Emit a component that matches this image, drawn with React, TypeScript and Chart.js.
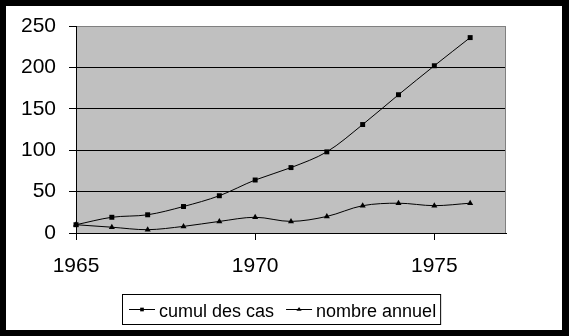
import React, { useEffect, useRef } from 'react';
import { Chart, registerables } from 'chart.js';

Chart.register(...registerables);

// ---- data ----
const years = [1965, 1966, 1967, 1968, 1969, 1970, 1971, 1972, 1973, 1974, 1975, 1976];
const cumulDesCas = [10, 19, 22, 32, 45, 64, 79, 98, 131, 167, 202, 236];
const nombreAnnuel = [10, 7, 4, 8, 14, 19, 14, 20, 33, 36, 33, 36];
const seriesLabels = ['cumul des cas', 'nombre annuel'];
const seriesMarkers = ['rect', 'triangle'];
const xTickValues = [1965, 1970, 1975];
const xMin = 1965;
const xMax = 1977;
const yMin = 0;
const yMax = 250;
const yStep = 50;

const W = 569;
const H = 336;
const FONT = '"Liberation Sans", Arial, Helvetica, sans-serif';

function drawMarker(ctx: CanvasRenderingContext2D, style: string, x: number, y: number, r: number) {
  ctx.beginPath();
  if (style === 'rect') {
    const s = r * Math.SQRT1_2;
    ctx.rect(x - s, y - s, 2 * s, 2 * s);
  } else {
    const h = r * 1.5;
    ctx.moveTo(x, y - h * 0.66);
    ctx.lineTo(x + r, y + h * 0.34);
    ctx.lineTo(x - r, y + h * 0.34);
    ctx.closePath();
  }
  ctx.fill();
}

export default function App() {
  const ref = useRef<HTMLCanvasElement>(null);

  useEffect(() => {
    const canvas = ref.current;
    if (!canvas) return;

    const plotBg = {
      id: 'plotBg',
      beforeDraw(chart: any) {
        const { ctx, chartArea: a } = chart;
        ctx.save();
        ctx.fillStyle = '#c0c0c0';
        ctx.fillRect(a.left, a.top, a.right - a.left, a.bottom - a.top);
        ctx.restore();
      },
      beforeDatasetsDraw(chart: any) {
        const { ctx, chartArea: a } = chart;
        ctx.save();
        ctx.strokeStyle = '#808080';
        ctx.lineWidth = 1;
        const x = Math.round(a.right) - 0.5;
        ctx.beginPath();
        ctx.moveTo(x, Math.round(a.top) + 0.5);
        ctx.lineTo(x, Math.round(a.bottom));
        ctx.stroke();
        ctx.restore();
      },
    };

    const customLegend = {
      id: 'customLegend',
      afterDraw(chart: any) {
        const ctx: CanvasRenderingContext2D = chart.ctx;
        ctx.save();
        ctx.font = `18px ${FONT}`;
        const labels = chart.data.datasets.map((d: any) => d.label as string);
        const widths = labels.map((l: string) => ctx.measureText(l).width);
        const padL = 7, lineW = 26, gapText = 4, gapItem = 12, padR = 4;
        let total = padL + padR;
        widths.forEach((w: number, i: number) => {
          total += lineW + gapText + w + (i < widths.length - 1 ? gapItem : 0);
        });
        const boxLeft = Math.round(281 - total / 2);
        const boxTop = 294;
        const boxH = 30;
        ctx.fillStyle = '#fff';
        ctx.fillRect(boxLeft, boxTop, total, boxH);
        ctx.strokeStyle = '#000';
        ctx.lineWidth = 1;
        ctx.strokeRect(boxLeft + 0.5, boxTop + 0.5, total, boxH);
        let x = boxLeft + padL;
        const ly = 309.5;
        labels.forEach((l: string, i: number) => {
          ctx.strokeStyle = '#000';
          ctx.beginPath();
          ctx.moveTo(x, ly);
          ctx.lineTo(x + lineW, ly);
          ctx.stroke();
          ctx.fillStyle = '#000';
          drawMarker(ctx, chart.data.datasets[i].pointStyle, x + lineW / 2, ly, 2.6);
          ctx.fillStyle = '#000';
          ctx.textBaseline = 'alphabetic';
          ctx.textAlign = 'left';
          ctx.fillText(l, x + lineW + gapText, 316.5);
          x += lineW + gapText + widths[i] + gapItem;
        });
        ctx.restore();
      },
    };

    const mk = (vals: number[]) => years.map((yr, i) => ({ x: yr, y: vals[i] }));

    const chart = new Chart(canvas, {
      type: 'line',
      data: {
        datasets: [
          {
            label: seriesLabels[0],
            data: mk(cumulDesCas),
            borderColor: '#000',
            backgroundColor: '#000',
            borderWidth: 1,
            pointStyle: seriesMarkers[0] as any,
            pointRadius: 3.5,
            pointBackgroundColor: '#000',
            pointBorderColor: '#000',
            pointBorderWidth: 0,
            tension: 0.33,
            fill: false,
            clip: false as any,
          },
          {
            label: seriesLabels[1],
            data: mk(nombreAnnuel),
            borderColor: '#000',
            backgroundColor: '#000',
            borderWidth: 1,
            pointStyle: seriesMarkers[1] as any,
            pointRadius: 3.5,
            pointBackgroundColor: '#000',
            pointBorderColor: '#000',
            pointBorderWidth: 0,
            tension: 0.33,
            fill: false,
            clip: false as any,
          },
        ],
      },
      options: {
        responsive: false,
        animation: false,
        devicePixelRatio: 1,
        events: [],
        layout: { padding: { left: 0, top: 26, right: 63, bottom: 0 } },
        plugins: {
          legend: { display: false },
          tooltip: { enabled: false },
          title: { display: false },
        },
        scales: {
          x: {
            type: 'linear',
            min: xMin,
            max: xMax,
            afterBuildTicks(scale: any) {
              scale.ticks = xTickValues.map((v) => ({ value: v }));
            },
            afterFit(scale: any) {
              scale.height = H - 233;
            },
            ticks: {
              color: '#000',
              font: { family: FONT, size: 21 },
              padding: 14,
              maxRotation: 0,
              autoSkip: false,
              callback: (v: any) => String(v),
            },
            grid: {
              drawOnChartArea: false,
              drawTicks: true,
              tickLength: 7,
              color: '#000',
              tickColor: '#000',
              lineWidth: 1,
            },
            border: { display: true, color: '#000', width: 1 },
          },
          y: {
            type: 'linear',
            min: yMin,
            max: yMax,
            afterFit(scale: any) {
              scale.width = 76;
            },
            ticks: {
              stepSize: yStep,
              color: '#000',
              font: { family: FONT, size: 21 },
              padding: 13,
              callback: (v: any) => String(v),
            },
            grid: {
              color: (c: any) => (c.tick && c.tick.value === yMax ? '#808080' : '#000'),
              tickColor: '#000',
              drawTicks: true,
              tickLength: 7,
              lineWidth: 1,
            },
            border: { display: true, color: '#000', width: 1 },
          },
        },
      },
      plugins: [plotBg, customLegend],
    } as any);

    return () => chart.destroy();
  }, []);

  return (
    <div style={{ position: 'fixed', left: 0, top: 0, width: W, height: H, background: '#000' }}>
      <div style={{ position: 'absolute', left: 6, top: 6, width: 556, height: 324, background: '#fff' }} />
      <canvas
        ref={ref}
        width={W}
        height={H}
        style={{ position: 'absolute', left: 0, top: 0, width: W, height: H }}
      />
    </div>
  );
}
